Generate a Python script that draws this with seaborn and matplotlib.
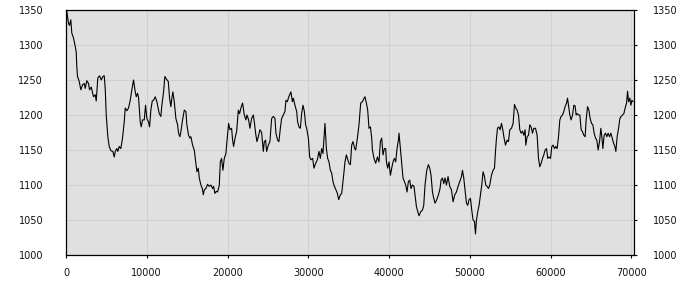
import matplotlib
matplotlib.use("Agg")
import matplotlib.pyplot as plt
import numpy as np
import pandas as pd
import seaborn as sns

# ---- data ----
x_vals = [0, 99, 310, 434, 595, 719, 929, 1140, 1264, 1338, 1425, 1635, 1834, 2044, 2255, 2379, 2577, 2788, 2912, 3122,
          3283, 3407, 3618, 3742, 3940, 4151, 4361, 4560, 4733, 4857, 4981, 5179, 5353, 5551, 5799, 5972, 6096, 6294,
          6418, 6591, 6790, 7000, 7211, 7335, 7533, 7744, 7954, 8152, 8363, 8574, 8698, 8859, 8983, 9193, 9317, 9478,
          9689, 9850, 10011, 10222, 10346, 10507, 10680, 10841, 11052, 11250, 11547, 11746, 11870, 12080, 12241, 12452,
          12663, 12824, 12985, 13109, 13233, 13406, 13604, 13815, 13939, 14100, 14224, 14434, 14645, 14843, 14967,
          15178, 15339, 15463, 15673, 15884, 16082, 16206, 16380, 16504, 16702, 16876, 17000, 17123, 17322, 17532,
          17743, 17941, 18152, 18276, 18437, 18610, 18771, 18982, 19106, 19266, 19427, 19601, 19799, 19923, 20134,
          20295, 20505, 20629, 20753, 20964, 21125, 21336, 21497, 21658, 21868, 22079, 22277, 22401, 22612, 22773,
          22984, 23194, 23318, 23479, 23640, 23813, 24012, 24222, 24433, 24557, 24718, 24842, 25053, 25251, 25462,
          25673, 25871, 25995, 26205, 26366, 26540, 26701, 26911, 27110, 27234, 27407, 27531, 27692, 27853, 28026,
          28150, 28348, 28559, 28683, 28844, 29017, 29178, 29339, 29513, 29674, 29835, 30008, 30169, 30330, 30541,
          30702, 30913, 31123, 31322, 31495, 31656, 31817, 31991, 32065, 32239, 32400, 32561, 32734, 32895, 33056,
          33230, 33428, 33601, 33763, 33973, 34134, 34345, 34543, 34717, 34841, 35039, 35213, 35374, 35535, 35746,
          35869, 36080, 36278, 36489, 36700, 36898, 37022, 37195, 37356, 37517, 37691, 37852, 37938, 38136, 38347,
          38558, 38756, 38929, 39090, 39251, 39425, 39586, 39673, 39834, 39995, 40168, 40329, 40490, 40664, 40825,
          40986, 41160, 41234, 41408, 41569, 41730, 41903, 42064, 42225, 42399, 42560, 42721, 42894, 43092, 43216,
          43390, 43551, 43712, 43923, 44134, 44295, 44456, 44666, 44877, 45038, 45199, 45373, 45534, 45695, 45906,
          46116, 46315, 46438, 46612, 46773, 46934, 47107, 47306, 47516, 47727, 47925, 48136, 48346, 48545, 48756,
          48966, 49090, 49251, 49412, 49586, 49747, 49908, 50081, 50242, 50403, 50577, 50701, 50825, 50986, 51147,
          51320, 51481, 51642, 51816, 51977, 52138, 52311, 52472, 52683, 52881, 53055, 53179, 53303, 53427, 53588,
          53749, 53922, 54083, 54244, 54418, 54616, 54790, 54951, 55161, 55359, 55533, 55694, 55855, 56028, 56189,
          56350, 56524, 56685, 56846, 56933, 57094, 57267, 57428, 57589, 57763, 57924, 58134, 58333, 58506, 58667,
          58828, 59002, 59163, 59324, 59497, 59658, 59819, 59993, 60154, 60315, 60489, 60650, 60811, 60984, 61145,
          61306, 61480, 61641, 61802, 61975, 62099, 62223, 62384, 62545, 62719, 62880, 63041, 63165, 63289, 63463,
          63624, 63785, 63958, 64119, 64280, 64404, 64577, 64738, 64899, 65072, 65233, 65394, 65568, 65729, 65890,
          66063, 66225, 66348, 66472, 66633, 66807, 66968, 67129, 67302, 67464, 67625, 67798, 67959, 68083, 68244,
          68418, 68579, 68740, 68913, 69074, 69235, 69409, 69533, 69657, 69818, 69942, 70066, 70226]

y_vals = [1350, 1348, 1331, 1328, 1336, 1317, 1310, 1298, 1290, 1269, 1255, 1248, 1236, 1243, 1245, 1238, 1249, 1245,
          1236, 1240, 1232, 1226, 1229, 1220, 1253, 1256, 1250, 1255, 1256, 1238, 1200, 1169, 1155, 1149, 1148, 1140,
          1148, 1152, 1148, 1155, 1152, 1167, 1190, 1210, 1206, 1210, 1221, 1236, 1250, 1233, 1226, 1231, 1225, 1190,
          1183, 1193, 1193, 1214, 1195, 1190, 1183, 1207, 1220, 1221, 1226, 1219, 1202, 1198, 1214, 1233, 1255, 1251,
          1248, 1224, 1212, 1224, 1233, 1219, 1195, 1186, 1174, 1169, 1176, 1193, 1207, 1205, 1186, 1171, 1167, 1169,
          1157, 1150, 1131, 1119, 1124, 1110, 1100, 1095, 1086, 1093, 1095, 1101, 1098, 1100, 1095, 1098, 1088, 1091,
          1090, 1100, 1133, 1138, 1121, 1138, 1145, 1162, 1188, 1179, 1181, 1164, 1155, 1169, 1176, 1207, 1202, 1210,
          1217, 1200, 1193, 1200, 1193, 1181, 1195, 1200, 1190, 1174, 1162, 1169, 1179, 1175, 1148, 1162, 1164, 1148,
          1157, 1162, 1195, 1198, 1195, 1174, 1164, 1162, 1181, 1195, 1200, 1205, 1221, 1219, 1224, 1229, 1233, 1219,
          1224, 1214, 1205, 1190, 1183, 1181, 1202, 1214, 1205, 1186, 1179, 1167, 1140, 1136, 1138, 1124, 1131, 1136,
          1148, 1138, 1152, 1145, 1176, 1188, 1152, 1138, 1133, 1121, 1117, 1105, 1098, 1093, 1088, 1079, 1086, 1088,
          1110, 1133, 1143, 1138, 1131, 1129, 1157, 1162, 1152, 1150, 1167, 1186, 1217, 1219, 1224, 1226, 1217, 1207,
          1181, 1183, 1167, 1150, 1138, 1131, 1140, 1133, 1162, 1167, 1143, 1152, 1152, 1133, 1124, 1133, 1114, 1124,
          1133, 1138, 1133, 1152, 1164, 1174, 1152, 1133, 1110, 1105, 1100, 1090, 1105, 1107, 1095, 1100, 1098, 1086,
          1069, 1062, 1056, 1062, 1064, 1071, 1100, 1121, 1129, 1124, 1114, 1090, 1081, 1074, 1079, 1086, 1095, 1107,
          1110, 1102, 1110, 1100, 1112, 1098, 1093, 1076, 1086, 1090, 1098, 1105, 1112, 1121, 1110, 1093, 1074, 1071,
          1079, 1081, 1064, 1050, 1048, 1030, 1050, 1062, 1071, 1086, 1100, 1119, 1112, 1100, 1098, 1095, 1100, 1114,
          1121, 1124, 1148, 1167, 1181, 1183, 1179, 1188, 1179, 1167, 1157, 1164, 1162, 1179, 1181, 1188, 1215, 1210,
          1207, 1200, 1179, 1174, 1177, 1171, 1179, 1157, 1169, 1171, 1186, 1183, 1174, 1181, 1181, 1171, 1138, 1126,
          1131, 1138, 1143, 1150, 1152, 1138, 1140, 1138, 1155, 1157, 1152, 1155, 1152, 1169, 1193, 1198, 1200, 1205,
          1212, 1217, 1224, 1214, 1200, 1193, 1200, 1214, 1213, 1200, 1202, 1200, 1200, 1179, 1176, 1171, 1169, 1193,
          1212, 1207, 1195, 1188, 1186, 1174, 1167, 1164, 1150, 1162, 1181, 1169, 1152, 1171, 1174, 1169, 1174, 1169,
          1174, 1167, 1160, 1155, 1148, 1169, 1181, 1195, 1198, 1200, 1202, 1210, 1217, 1234, 1219, 1224, 1214, 1221,
          1219]

x_ticks = [0, 10000, 20000, 30000, 40000, 50000, 60000, 70000]
y_ticks = [1000, 1050, 1100, 1150, 1200, 1250, 1300, 1350]

sns.set_theme(style="white")
plt.rcParams['font.family'] = ['DejaVu Sans']

df = pd.DataFrame({"x": x_vals, "y": y_vals})

fig = plt.figure(figsize=(7, 3), dpi=100)
ax = fig.add_axes([66 / 700, 45 / 300, 568 / 700, 245 / 300])
ax.set_facecolor('#e0e0e0')

sns.lineplot(data=df, x="x", y="y", ax=ax, color="black", linewidth=0.8,
             sort=False, estimator=None)

ax.set_xlim(0, 70330)
ax.set_ylim(1000, 1350)
ax.set_xticks(x_ticks)
ax.set_yticks(y_ticks)
ax.set_xticklabels([str(t) for t in x_ticks])
ax.set_yticklabels([str(t) for t in y_ticks])
ax.set_xlabel("")
ax.set_ylabel("")

ax.grid(True, color='#d0d0d0', linewidth=0.8)
ax.set_axisbelow(True)

for s in ax.spines.values():
    s.set_visible(True)
    s.set_color('black')
    s.set_linewidth(0.9)

# left labels: no tick marks, wide gap
ax.tick_params(axis='y', left=False, right=False, labelleft=True, labelright=False,
               length=0, pad=16.5, labelsize=7, labelcolor='#111111')
ax.tick_params(axis='x', bottom=True, direction='out', length=2.5, width=0.8,
               color='black', labelsize=7, labelcolor='#111111', pad=7)

# right labels on a twin axis with short outward ticks
ax2 = ax.twinx()
ax2.set_ylim(1000, 1350)
ax2.set_yticks(y_ticks)
ax2.set_yticklabels([str(t) for t in y_ticks])
ax2.grid(False)
for s in ax2.spines.values():
    s.set_visible(False)
ax2.tick_params(axis='y', right=True, left=False, labelright=True, labelleft=False,
                direction='out', length=2.5, width=0.8, color='black',
                pad=11.5, labelsize=7, labelcolor='#111111')

fig.savefig("out.png", dpi=100, facecolor='white')
